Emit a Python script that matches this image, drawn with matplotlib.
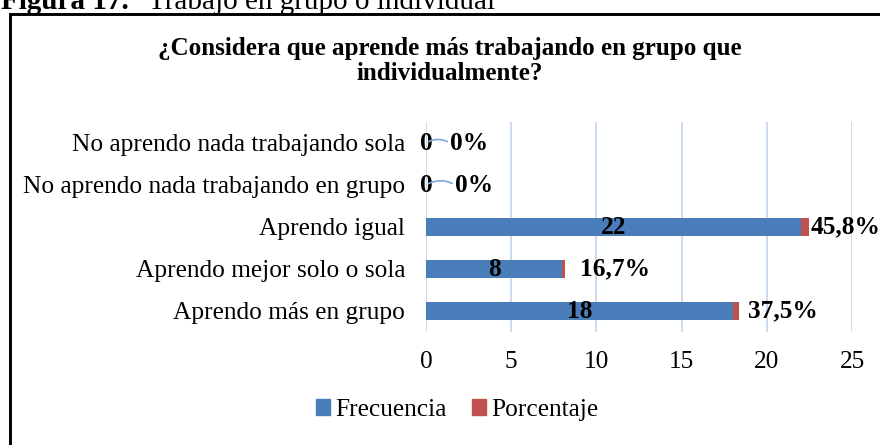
import matplotlib
matplotlib.use("Agg")
import matplotlib.pyplot as plt
from matplotlib.patches import Rectangle, Patch

plt.rcParams['font.family'] = ['Liberation Serif', 'DejaVu Serif']

categorias = ['Aprendo más en grupo', 'Aprendo mejor solo o sola', 'Aprendo igual',
              'No aprendo nada trabajando en grupo', 'No aprendo nada trabajando sola']
frecuencia = [18, 8, 22, 0, 0]
porcentaje = [37.5, 16.7, 45.8, 0, 0]
xticks = [0, 5, 10, 15, 20, 25]

# label offsets (px) to the right of each bar, as in the original
pct_dx = [9, 15, 2, 29, 24]

azul = '#4a7ebb'
rojo = '#c0504d'
grid_col = '#c6d9f1'
fs = 18.3

W, H = 880, 445
fig = plt.figure(figsize=(W / 100, H / 100), dpi=100)

# caption above the chart (cut off at the top like in the document)
fig.text(1 / W, 1 - 9 / H, 'Figura 17.', fontsize=21, fontweight='bold', va='baseline', ha='left')
fig.text(148 / W, 1 - 9 / H, 'Trabajo en grupo o individual', fontsize=21, va='baseline', ha='left')

# chart border
fig.patches.append(Rectangle((9.5 / W, -0.1), 1.2, 1.1 - 14 / H, transform=fig.transFigure,
                             fill=False, edgecolor='black', linewidth=2.1))

fig.text(450 / W, 1 - 55 / H, '¿Considera que aprende más trabajando en grupo que',
         fontsize=18.1, fontweight='bold', ha='center', va='baseline')
fig.text(450 / W, 1 - 80 / H, 'individualmente?',
         fontsize=18.1, fontweight='bold', ha='center', va='baseline')

ax = fig.add_axes([426 / W, 1 - 332 / H, 426 / W, 210 / H])
pos = list(range(len(categorias)))
pct_frac = [p / 100 for p in porcentaje]

ax.barh(pos, frecuencia, height=0.41, color=azul, zorder=2, label='Frecuencia')
ax.barh(pos, pct_frac, left=frecuencia, height=0.41, color=rojo, zorder=2, label='Porcentaje')

ax.set_xlim(0, 25)
ax.set_ylim(-0.5, len(categorias) - 0.5)
ax.set_xticks(xticks)
ax.set_yticks(pos)
ax.set_yticklabels(categorias)
ax.tick_params(axis='both', length=0, labelsize=fs)
ax.tick_params(axis='y', pad=15)
ax.tick_params(axis='x', pad=14)
for s in ax.spines.values():
    s.set_visible(False)
ax.xaxis.grid(True, color=grid_col, linewidth=1.3, zorder=0)
ax.set_axisbelow(True)

for i, (f, p) in enumerate(zip(frecuencia, porcentaje)):
    ax.text(f / 2, i, str(f), ha='center', va='center', fontsize=fs, fontweight='bold', zorder=3)
    txt = '0%' if p == 0 else (f'{p:.1f}%').replace('.', ',')
    end = f + p / 100
    if f == 0:
        ax.annotate(txt, xy=(end, i), xytext=(pct_dx[i] * 0.72, 0), textcoords='offset points',
                    ha='left', va='center', fontsize=fs, fontweight='bold',
                    arrowprops=dict(arrowstyle='-', color='#7aa6dc', lw=1.2,
                                    shrinkA=0, shrinkB=2, relpos=(0, 0.5),
                                    connectionstyle='arc3,rad=0.3'))
    else:
        ax.annotate(txt, xy=(end, i), xytext=(pct_dx[i] * 0.72, 0), textcoords='offset points',
                    ha='left', va='center', fontsize=fs, fontweight='bold')

handles = [Patch(color=azul, label='Frecuencia'), Patch(color=rojo, label='Porcentaje')]
fig.legend(handles=handles, loc='center', bbox_to_anchor=(457 / W, 1 - 410 / H), ncol=2,
           frameon=False, fontsize=fs, handlelength=0.55, handleheight=0.55,
           handletextpad=0.2, columnspacing=1.0)

fig.savefig('out.png', dpi=100)
